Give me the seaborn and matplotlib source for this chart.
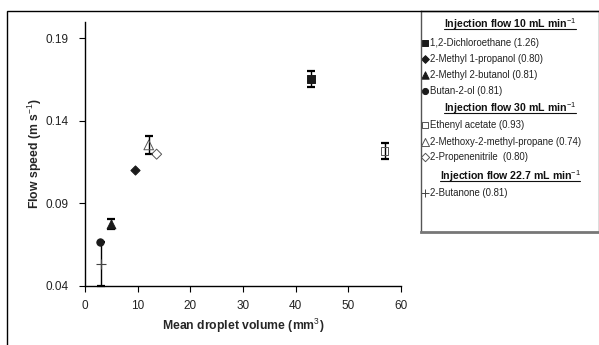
import matplotlib
matplotlib.use("Agg")
import matplotlib.pyplot as plt
import seaborn as sns
from matplotlib.patches import Rectangle

# ---------------- data ----------------
names = ["1,2-Dichloroethane (1.26)", "2-Methyl 1-propanol (0.80)",
         "2-Methyl 2-butanol (0.81)", "Butan-2-ol (0.81)",
         "Ethenyl acetate (0.93)", "2-Methoxy-2-methyl-propane (0.74)",
         "2-Propenenitrile  (0.80)", "2-Butanone (0.81)"]
groups = ["Injection flow 10 mL min$^{-1}$"] * 4 + \
         ["Injection flow 30 mL min$^{-1}$"] * 3 + \
         ["Injection flow 22.7 mL min$^{-1}$"]
droplet_volume = [42.9, 9.5, 5.0, 2.9, 56.9, 12.1, 13.6, 3.0]
flow_speed = [0.1655, 0.110, 0.0775, 0.0664, 0.1218, 0.1254, 0.1198, 0.0532]
flow_err = [0.005, 0.0, 0.003, 0.0, 0.005, 0.0052, 0.0, 0.0132]
x_ticks = [0, 10, 20, 30, 40, 50, 60]
y_ticks = [0.04, 0.09, 0.14, 0.19]

# ---------------- styles ----------------
markers = ["s", "D", "^", "o", "s", "^", "D", "+"]
filled = [True, True, True, True, False, False, False, True]
sizes = [34, 22, 40, 28, 30, 48, 26, 55]

sns.set_theme(style="white")
plt.rcParams["font.family"] = ["Liberation Sans", "DejaVu Sans"]
plt.rcParams["mathtext.fontset"] = "custom"
plt.rcParams["mathtext.rm"] = "Liberation Sans"
plt.rcParams["mathtext.it"] = "Liberation Sans:italic"
plt.rcParams["mathtext.bf"] = "Liberation Sans:bold"

W, H = 599, 345
fig = plt.figure(figsize=(W / 100, H / 100), dpi=100)
fig.patch.set_facecolor("white")

ax = fig.add_axes([85 / W, 1 - 285.7 / H, (401 - 85) / W, (285.7 - 22) / H])

# error bars first
for xv, yv, e in zip(droplet_volume, flow_speed, flow_err):
    if e > 0:
        ax.errorbar([xv], [yv], yerr=[e], fmt="none", ecolor="black",
                    elinewidth=1.0, capsize=2.6, capthick=1.6, zorder=2,
                    clip_on=False)

for i in range(len(names)):
    if markers[i] == "+":
        sns.scatterplot(x=[droplet_volume[i]], y=[flow_speed[i]], ax=ax,
                        marker="+", s=sizes[i], color="#444444",
                        linewidth=0.8, zorder=3, legend=False)
    elif filled[i]:
        sns.scatterplot(x=[droplet_volume[i]], y=[flow_speed[i]], ax=ax,
                        marker=markers[i], s=sizes[i], facecolor="#1a1a1a",
                        edgecolor="#1a1a1a", linewidth=0.7, zorder=3,
                        legend=False)
    else:
        sns.scatterplot(x=[droplet_volume[i]], y=[flow_speed[i]], ax=ax,
                        marker=markers[i], s=sizes[i], facecolor="none",
                        edgecolor="#555555", linewidth=0.7, zorder=3,
                        legend=False)

ax.set_xlim(0, 60)
ax.set_ylim(0.04, 0.20)
ax.set_xticks(x_ticks)
ax.set_yticks(y_ticks)
ax.set_xticklabels([str(t) for t in x_ticks])
ax.set_yticklabels([f"{t:.2f}" for t in y_ticks])
for s in ["top", "right"]:
    ax.spines[s].set_visible(False)
for s in ["left", "bottom"]:
    ax.spines[s].set_color("black")
    ax.spines[s].set_linewidth(1.0)
ax.tick_params(axis="both", direction="out", length=4, width=0.8,
               color="black", labelsize=8.5, labelcolor="#222222",
               left=True, bottom=True)
ax.tick_params(axis="x", pad=6)
ax.tick_params(axis="y", pad=8)
ax.set_xlabel("Mean droplet volume (mm$^{3}$)", fontsize=8.8,
              fontweight="bold", labelpad=4)
ax.set_ylabel("Flow speed (m s$^{-1}$)", fontsize=8.8, fontweight="bold",
              labelpad=1)
ax.grid(False)

# outer frame
fig.add_artist(Rectangle((7 / W, -0.2), 1.2, 1.2 - 11 / H,
                         transform=fig.transFigure, fill=False,
                         edgecolor="black", linewidth=1.0))

# ---------------- legend panel ----------------
lx0, lx1, ly0, ly1 = 421, 599, 11, 232
lax = fig.add_axes([lx0 / W, 1 - ly1 / H, (lx1 - lx0) / W, (ly1 - ly0) / H])
lax.set_xlim(lx0, lx1)
lax.set_ylim(ly1, ly0)
lax.set_xticks([])
lax.set_yticks([])
for s in lax.spines.values():
    s.set_color("#555555")
    s.set_linewidth(1.0)
lax.spines["bottom"].set_linewidth(2.0)
lax.spines["bottom"].set_color("#777777")

header_rows = {0: 24, 4: 107.7, 7: 175.7}
item_rows = [42.7, 59.3, 75.3, 91, 125, 141.7, 157.3, 192.7]
seen = set()
fig.canvas.draw()
for i, name in enumerate(names):
    g = groups[i]
    if g not in seen:
        seen.add(g)
        hy = header_rows[i]
        t = lax.text(510, hy, g, ha="center", va="center", fontsize=7.6,
                     fontweight="bold", color="#111111")
        bb = t.get_window_extent(renderer=fig.canvas.get_renderer())
        inv = lax.transData.inverted()
        (bx0, _), (bx1, _) = inv.transform([[bb.x0, bb.y0], [bb.x1, bb.y1]])
        lax.plot([bx0, bx1], [hy + 5.4, hy + 5.4], color="#111111", lw=0.8)
    yy = item_rows[i]
    if markers[i] == "+":
        lax.scatter([425], [yy], marker="+", s=sizes[i] * 0.6, color="#444444",
                    linewidth=0.7)
    elif filled[i]:
        lax.scatter([425], [yy], marker=markers[i], s=sizes[i] * 0.7,
                    facecolor="#1a1a1a", edgecolor="#1a1a1a", linewidth=0.7)
    else:
        lax.scatter([425], [yy], marker=markers[i], s=sizes[i] * 0.7,
                    facecolor="white", edgecolor="#555555", linewidth=0.7)
    lax.text(429.5, yy, name, ha="left", va="center", fontsize=6.9,
             color="#222222")

fig.savefig("out.png", dpi=100, facecolor="white")
